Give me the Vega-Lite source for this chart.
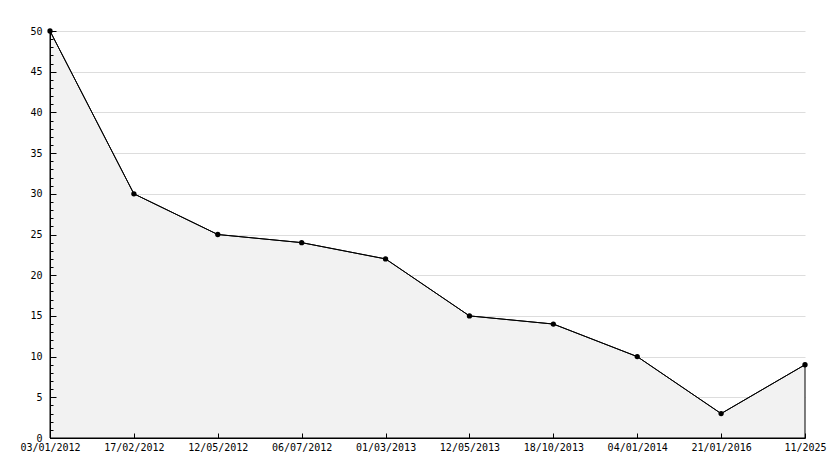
{
  "$schema": "https://vega.github.io/schema/vega-lite/v6.json",
  "width": 755,
  "height": 407,
  "autosize": {"type": "none"},
  "padding": {"left": 50, "top": 31, "right": 29, "bottom": 30},
  "background": "white",
  "config": {
    "view": {"stroke": null},
    "axis": {"labelFont": "DejaVu Sans Mono", "labelFontSize": 10, "labelColor": "black", "tickColor": "black", "domainColor": "black"}
  },
  "data": {
    "values": [
      {"date": "03/01/2012", "value": 50},
      {"date": "17/02/2012", "value": 30},
      {"date": "12/05/2012", "value": 25},
      {"date": "06/07/2012", "value": 24},
      {"date": "01/03/2013", "value": 22},
      {"date": "12/05/2013", "value": 15},
      {"date": "18/10/2013", "value": 14},
      {"date": "04/01/2014", "value": 10},
      {"date": "21/01/2016", "value": 3},
      {"date": "11/2025", "value": 9}
    ]
  },
  "layer": [
    {
      "mark": {"type": "area", "fill": "#f2f2f2", "stroke": "black", "strokeWidth": 1},
      "encoding": {
        "x": {
          "field": "date", "type": "ordinal", "sort": null,
          "scale": {"type": "point", "padding": 0},
          "axis": {"title": null, "labelAngle": 0, "tickSize": -5, "labelPadding": 9, "grid": false, "zindex": 1}
        },
        "y": {
          "field": "value", "type": "quantitative",
          "scale": {"domain": [0, 50], "nice": false},
          "axis": {"orient": "left", "title": null, "values": [5, 10, 15, 20, 25, 30, 35, 40, 45, 50], "ticks": false, "labels": false, "domain": false, "grid": true, "gridColor": "#dddddd", "zindex": 0}
        }
      }
    },
    {
      "mark": {"type": "line", "color": "black", "strokeWidth": 1},
      "encoding": {
        "x": {"field": "date", "type": "ordinal", "sort": null, "scale": {"type": "point", "padding": 0}},
        "y": {
          "field": "value", "type": "quantitative",
          "scale": {"domain": [0, 50], "nice": false},
          "axis": {"orient": "left", "title": null, "values": [0, 5, 10, 15, 20, 25, 30, 35, 40, 45, 50], "tickSize": -6, "labelPadding": 14, "grid": false, "zindex": 1}
        }
      }
    },
    {
      "mark": {"type": "point", "shape": "circle", "filled": true, "color": "black", "size": 28, "opacity": 1},
      "encoding": {
        "x": {"field": "date", "type": "ordinal", "sort": null, "scale": {"type": "point", "padding": 0}},
        "y": {
          "field": "value", "type": "quantitative",
          "scale": {"domain": [0, 50], "nice": false},
          "axis": {"orient": "left", "title": null, "values": [0,1,2,3,4,5,6,7,8,9,10,11,12,13,14,15,16,17,18,19,20,21,22,23,24,25,26,27,28,29,30,31,32,33,34,35,36,37,38,39,40,41,42,43,44,45,46,47,48,49,50], "tickSize": -3, "labels": false, "grid": false, "domain": false, "zindex": 1}
        }
      }
    }
  ],
  "resolve": {"axis": {"y": "independent"}}
}
